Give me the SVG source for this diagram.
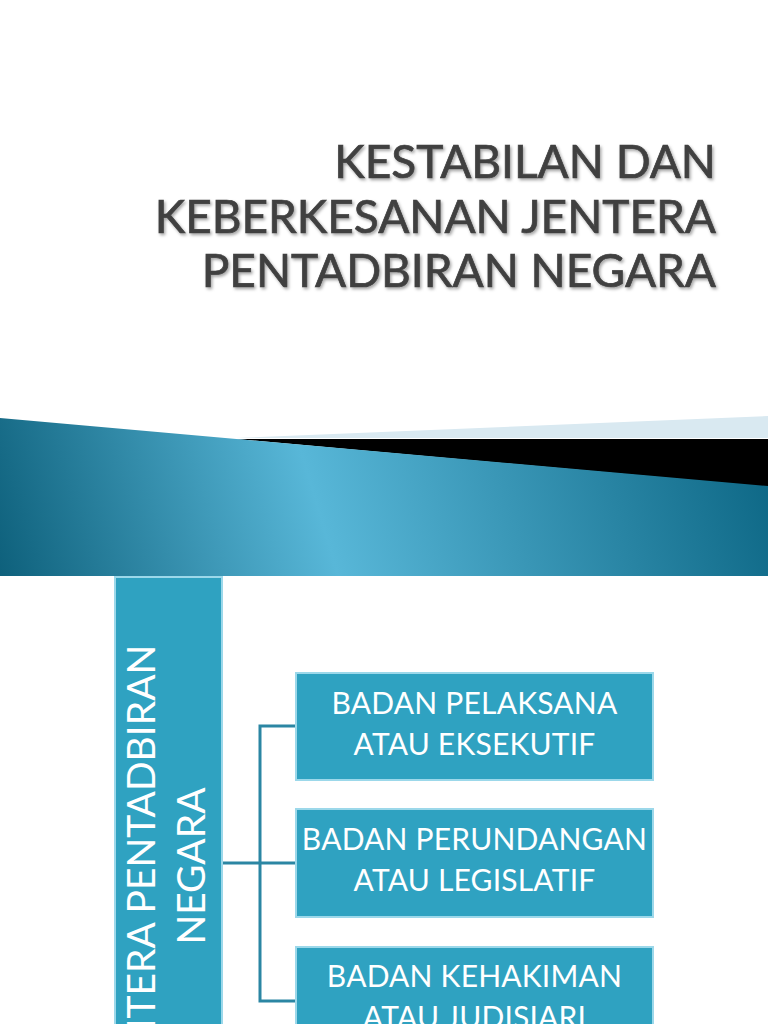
<svg xmlns="http://www.w3.org/2000/svg" width="768" height="1024" viewBox="0 0 768 1024">
  <defs>
    <linearGradient id="band" gradientUnits="userSpaceOnUse" x1="0" y1="620" x2="768" y2="390">
      <stop offset="0" stop-color="#0b5d78"/>
      <stop offset="0.42" stop-color="#58b7d8"/>
      <stop offset="1" stop-color="#0a6482"/>
    </linearGradient>
    <filter id="shadow" x="-5%" y="-20%" width="110%" height="150%">
      <feDropShadow dx="1.5" dy="2" stdDeviation="1.5" flood-color="#000" flood-opacity="0.35"/>
    </filter>
    <style>
      .title { font-family: Lato, "Open Sans", "DejaVu Sans", sans-serif; font-size: 46px; fill: #404040; stroke: #404040; stroke-width: 0.7px; text-anchor: end; }
      .box { fill: #2fa2c1; stroke: #9cd8ea; stroke-width: 2; }
      .lbl { font-family: Lato, "Open Sans", "DejaVu Sans", sans-serif; font-size: 30px; letter-spacing: 0.2px; fill: #ffffff; text-anchor: middle; }
      .vlbl { font-family: Lato, "Open Sans", "DejaVu Sans", sans-serif; font-size: 39px; fill: #ffffff; text-anchor: middle; }
      .conn { fill: none; stroke: #2b86a3; stroke-width: 3; }
    </style>
  </defs>

  <rect x="0" y="0" width="768" height="1024" fill="#ffffff"/>

  <!-- Title -->
  <g id="title" filter="url(#shadow)">
    <text class="title" x="716" y="178">KESTABILAN DAN</text>
    <text class="title" x="716" y="233">KEBERKESANAN JENTERA</text>
    <text class="title" x="716" y="287">PENTADBIRAN NEGARA</text>
  </g>

  <!-- Banner -->
  <g id="banner">
    <polygon points="236,438 768,416 768,438" fill="#d9e9f1"/>
    <polygon points="236,439 768,439 768,487" fill="#000000"/>
    <polygon points="0,418 768,486 768,576 0,576" fill="url(#band)"/>
  </g>

  <!-- Connectors -->
  <g id="connectors">
    <path class="conn" d="M222,863 H296"/>
    <path class="conn" d="M296,726 H260 V1001 H296"/>
  </g>

  <!-- Left vertical node -->
  <g id="node-main">
    <rect class="box" x="115" y="577" width="107" height="470"/>
    <text class="vlbl" transform="translate(155,866) rotate(-90)" x="0" y="0">JENTERA PENTADBIRAN</text>
    <text class="vlbl" transform="translate(205,866) rotate(-90)" x="0" y="0">NEGARA</text>
  </g>

  <g id="node-eksekutif">
    <rect class="box" x="296" y="673" width="357" height="107"/>
    <text class="lbl" x="474.5" y="714">BADAN PELAKSANA</text>
    <text class="lbl" x="474.5" y="755">ATAU EKSEKUTIF</text>
  </g>

  <g id="node-legislatif">
    <rect class="box" x="296" y="809" width="357" height="108"/>
    <text class="lbl" x="474.5" y="850">BADAN PERUNDANGAN</text>
    <text class="lbl" x="474.5" y="891">ATAU LEGISLATIF</text>
  </g>

  <g id="node-judisiari">
    <rect class="box" x="296" y="947" width="357" height="108"/>
    <text class="lbl" x="474.5" y="987">BADAN KEHAKIMAN</text>
    <text class="lbl" x="474.5" y="1028">ATAU JUDISIARI</text>
  </g>
</svg>
